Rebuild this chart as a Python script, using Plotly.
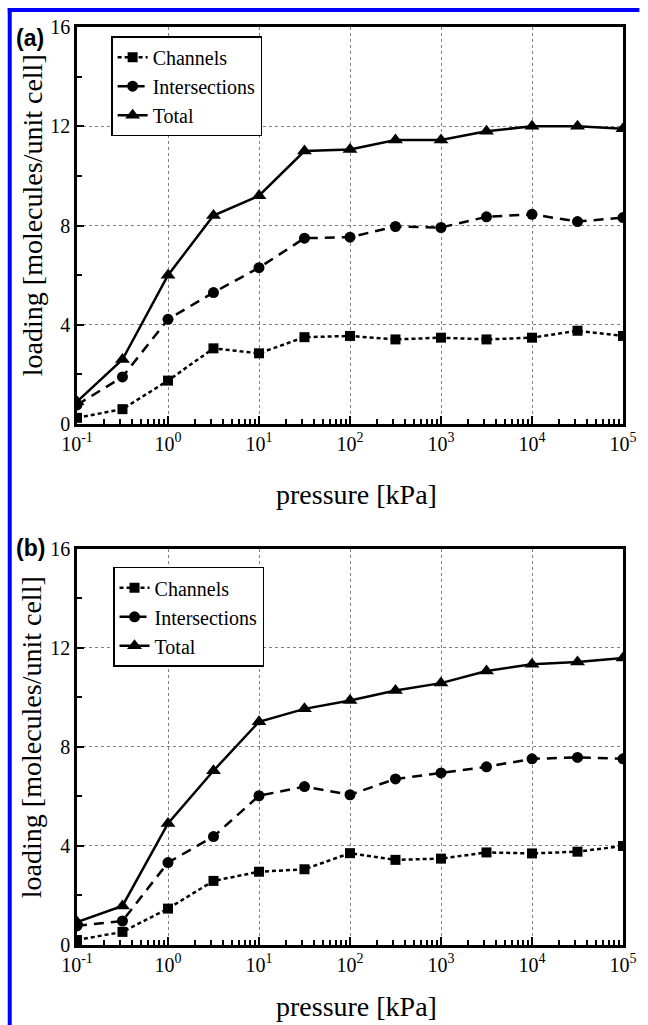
import plotly.graph_objects as go

# ---------------- data ----------------
pressure = [0.1, 0.316, 1, 3.16, 10, 31.6, 100, 316, 1000, 3162, 10000, 31623, 100000]

a_channels = [0.25, 0.6, 1.75, 3.05, 2.85, 3.5, 3.55, 3.41, 3.48, 3.41, 3.48, 3.76, 3.55]
a_intersections = [0.77, 1.9, 4.22, 5.3, 6.3, 7.49, 7.53, 7.96, 7.92, 8.35, 8.45, 8.16, 8.32]
a_total = [0.9, 2.6, 6.0, 8.4, 9.2, 11.0, 11.06, 11.45, 11.45, 11.8, 12.0, 12.0, 11.9]

b_channels = [0.2, 0.53, 1.47, 2.59, 2.96, 3.06, 3.71, 3.44, 3.49, 3.74, 3.7, 3.77, 4.0]
b_intersections = [0.77, 0.97, 3.33, 4.38, 6.03, 6.4, 6.07, 6.71, 6.95, 7.2, 7.52, 7.58, 7.52]
b_total = [0.93, 1.58, 4.91, 7.04, 9.02, 9.54, 9.88, 10.28, 10.58, 11.07, 11.34, 11.43, 11.6]

series_names = ["Channels", "Intersections", "Total"]
x_tickvals = [0.1, 1, 10, 100, 1000, 10000, 100000]
x_ticktext = ["10<sup>-1</sup>", "10<sup>0</sup>", "10<sup>1</sup>", "10<sup>2</sup>",
              "10<sup>3</sup>", "10<sup>4</sup>", "10<sup>5</sup>"]
y_tickvals = [0, 4, 8, 12, 16]
x_title = "pressure [kPa]"
y_title = "loading [molecules/unit cell]"
panel_labels = ["(a)", "(b)"]

# ---------------- styles ----------------
SERIF = "Liberation Serif"
styles = [
    dict(dash="4px,3px", symbol="square", size=10),
    dict(dash="10px,7px", symbol="circle", size=11),
    dict(dash="solid", symbol="triangle-up", size=13),
]

fig = go.Figure()

panels = [
    ([a_channels, a_intersections, a_total], "x", "y", "legend"),
    ([b_channels, b_intersections, b_total], "x2", "y2", "legend2"),
]
for data, xa, ya, lg in panels:
    for name, vals, st in zip(series_names, data, styles):
        fig.add_trace(go.Scatter(
            x=pressure, y=vals, name=name, mode="lines+markers",
            xaxis=xa, yaxis=ya, legend=lg,
            line=dict(color="black", width=2.5, dash=st["dash"]),
            marker=dict(color="black", symbol=st["symbol"], size=st["size"]),
        ))

xaxis_common = dict(
    type="log", range=[-1, 5], tickvals=x_tickvals, ticktext=x_ticktext,
    ticks="inside", ticklen=8, tickwidth=1.5, tickcolor="black",
    showline=True, linecolor="black", linewidth=2.5, mirror=True,
    showgrid=True, gridcolor="#808080", gridwidth=1, griddash="dot",
    minor=dict(ticks="inside", ticklen=5, tickwidth=1.5, tickcolor="black",
               dtick="D1", showgrid=False),
    tickfont=dict(family=SERIF, size=20, color="black"),
    zeroline=False,
)
yaxis_common = dict(
    range=[0, 16], tickvals=y_tickvals,
    ticks="inside", ticklen=7, tickwidth=1.5, tickcolor="black",
    showline=True, linecolor="black", linewidth=2.5, mirror=True,
    showgrid=True, gridcolor="#808080", gridwidth=1, griddash="dot",
    minor=dict(ticks="inside", ticklen=5, tickwidth=1.5, tickcolor="black",
               tickvals=[2, 6, 10, 14], showgrid=False),
    tickfont=dict(family=SERIF, size=20, color="black"),
    zeroline=False,
)

legend_common = dict(
    xanchor="left", yanchor="top", bgcolor="white",
    bordercolor="black", borderwidth=1.5,
    font=dict(family=SERIF, size=20, color="black"),
    tracegroupgap=0,
)

fig.update_layout(
    width=648, height=1025, autosize=False,
    font=dict(family=SERIF, color="black"),
    margin=dict(l=77, r=11, t=27, b=80),
    paper_bgcolor="white", plot_bgcolor="white",
    xaxis=dict(xaxis_common, domain=[0, 1], anchor="y"),
    yaxis=dict(yaxis_common, domain=[0.5675, 1], anchor="x"),
    xaxis2=dict(xaxis_common, domain=[0, 1], anchor="y2"),
    yaxis2=dict(yaxis_common, domain=[0, 0.4314], anchor="x2"),
    legend=dict(legend_common, x=0.0625, y=0.99),
    legend2=dict(legend_common, x=0.066, y=0.412),
    showlegend=True,
)

# axis titles and panel labels as annotations
ann = []
for ypos in [0.4902, -0.0675]:
    ann.append(dict(text=x_title, xref="paper", yref="paper", x=0.5125, y=ypos,
                    xanchor="center", yanchor="middle", showarrow=False,
                    font=dict(family=SERIF, size=28, color="black")))
for ypos in [0.7952, 0.2266]:
    ann.append(dict(text=y_title, xref="paper", yref="paper", x=-0.0821, y=ypos,
                    xanchor="center", yanchor="middle", showarrow=False, textangle=-90,
                    font=dict(family=SERIF, size=28, color="black")))
for lab, ypos in zip(panel_labels, [0.988, 0.4325]):
    ann.append(dict(text="<b>" + lab + "</b>", xref="paper", yref="paper", x=-0.0857, y=ypos,
                    xanchor="center", yanchor="middle", showarrow=False,
                    font=dict(family="Liberation Sans", size=23, color="black")))
fig.update_layout(annotations=ann)

# blue frame (top and left edges)
fig.add_shape(type="line", xref="paper", yref="paper",
              x0=-0.1268, x1=1.03, y0=1.01852, y1=1.01852,
              line=dict(color="#0000ff", width=4))
fig.add_shape(type="line", xref="paper", yref="paper",
              x0=-0.12321, x1=-0.12321, y0=-0.1, y1=1.0207,
              line=dict(color="#0000ff", width=4))

fig.write_html(
    "out.html",
    config={"displayModeBar": False},
    post_script="document.body.style.margin='0px';document.body.style.overflow='hidden';",
)
